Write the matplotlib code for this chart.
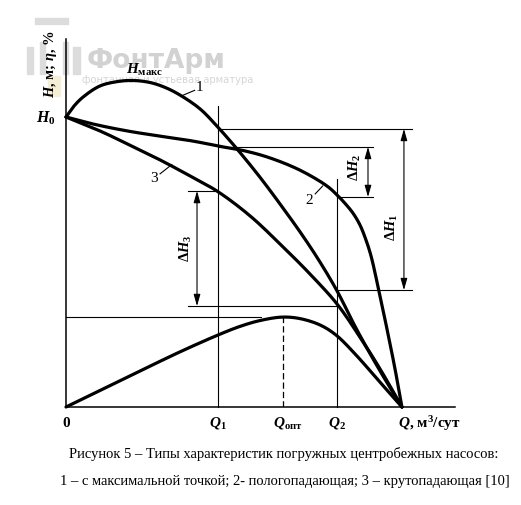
import matplotlib
matplotlib.use('Agg')
import matplotlib.pyplot as plt
import numpy as np
from matplotlib.patches import Rectangle

plt.rcParams['font.family'] = ['Liberation Serif', 'DejaVu Serif']
plt.rcParams['mathtext.fontset'] = 'custom'
plt.rcParams['mathtext.it'] = 'Liberation Serif:italic:bold'
plt.rcParams['mathtext.rm'] = 'Liberation Serif:bold'
plt.rcParams['mathtext.bf'] = 'Liberation Serif:bold'

# ---------------- data (Q in relative units, H / eta in relative units) -------------
curve1_q = [0.0, 2.4, 5.1, 10.1, 15.2, 19.9, 25.0, 29.5, 33.9, 39.9, 44.9, 50.9,
            57.7, 64.6, 70.5, 75.6, 80.7, 86.6, 93.5, 100.0]
curve1_h = [100.0, 103.8, 106.9, 110.7, 112.2, 112.6, 111.9, 110.2, 107.6, 102.8,
            96.9, 89.0, 79.3, 68.6, 59.0, 50.0, 40.0, 26.6, 12.4, 0.0]

curve2_q = [0.0, 8.0, 18.2, 28.0, 37.8, 45.2, 53.3, 60.7, 69.6, 77.7, 80.7, 83.0,
            85.4, 87.5, 89.3, 90.8, 92.9, 95.5, 97.9, 100.0]
curve2_h = [100.0, 97.6, 95.2, 93.4, 91.7, 90.0, 88.3, 85.9, 81.7, 76.2, 73.1, 70.3,
            66.9, 62.8, 57.6, 52.1, 41.4, 27.2, 13.4, 0.0]

curve3_q = [0.0, 10.1, 19.0, 28.0, 36.9, 44.9, 54.8, 64.6, 72.6, 80.7, 87.5, 93.5, 100.0]
curve3_h = [100.0, 95.2, 90.3, 85.2, 79.7, 74.5, 65.9, 55.2, 45.9, 35.5, 24.1, 13.1, 0.0]

eta_q = [0.0, 10.1, 22.0, 33.9, 45.2, 51.8, 57.7, 64.3, 69.6, 75.6, 80.4, 86.6, 92.6, 100.0]
eta_v = [0.0, 5.7, 12.4, 19.0, 24.8, 27.8, 29.8, 31.0, 30.5, 28.3, 24.8, 17.6, 9.7, 0.0]

Q1, Q_OPT, Q2, Q_MAX = 45.2, 64.6, 80.7, 100.0
ETA_MAX = 31.0
DH1 = (95.9, 40.3)   # H of curve 1 at Q1 and Q2
DH2 = (89.7, 72.4)   # H of curve 2 at Q1 and Q2
DH3 = (74.5, 34.8)   # H of curve 3 at Q1 and Q2

x_labels = ['0', r'$Q_1$', r'$Q_{\mathrm{опт}}$', r'$Q_2$']
x_label_pos = [0.0, Q1, Q_OPT + 1.5, Q2]

caption1 = 'Рисунок 5 – Типы характеристик погружных центробежных насосов:'
caption2 = '1 – с максимальной точкой; 2- пологопадающая; 3 – крутопадающая [10]'


def smooth(xs, ys, n=12):
    """Centripetal Catmull-Rom rendering of a polyline through the given points."""
    p = np.column_stack([xs, ys]).astype(float)
    p = np.vstack([2 * p[0] - p[1], p, 2 * p[-1] - p[-2]])
    out = []
    for i in range(1, len(p) - 2):
        p0, p1, p2, p3 = p[i - 1], p[i], p[i + 1], p[i + 2]
        t0 = 0.0
        t1 = t0 + np.linalg.norm(p1 - p0) ** 0.5
        t2 = t1 + np.linalg.norm(p2 - p1) ** 0.5
        t3 = t2 + np.linalg.norm(p3 - p2) ** 0.5
        t = np.linspace(t1, t2, n, endpoint=False)[:, None]
        a1 = (t1 - t) / (t1 - t0) * p0 + (t - t0) / (t1 - t0) * p1
        a2 = (t2 - t) / (t2 - t1) * p1 + (t - t1) / (t2 - t1) * p2
        a3 = (t3 - t) / (t3 - t2) * p2 + (t - t2) / (t3 - t2) * p3
        b1 = (t2 - t) / (t2 - t0) * a1 + (t - t0) / (t2 - t0) * a2
        b2 = (t3 - t) / (t3 - t1) * a2 + (t - t1) / (t3 - t1) * a3
        out.append((t2 - t) / (t2 - t1) * b1 + (t - t1) / (t2 - t1) * b2)
    out.append(p[-2][None, :])
    c = np.vstack(out)
    return c[:, 0], c[:, 1]


# ---------------- figure ---------------------------------------------------------
W, H = 521, 506
fig = plt.figure(figsize=(W / 100, H / 100), dpi=100)

# watermark (light grey logo)
wm = '#dcdcdc'
for (x0, y0, w, h) in [(35, 19, 33, 6), (27, 48, 6, 27), (40, 43, 5, 32),
                       (63, 43, 5, 32), (73, 48, 7, 27)]:
    fig.patches.append(Rectangle((x0 / W, 1 - (y0 + h) / H), w / W, h / H,
                                 transform=fig.transFigure, color=wm, zorder=-5))
fig.patches.append(Rectangle((48 / W, 1 - 97 / H), 12 / W, 20 / H,
                             transform=fig.transFigure, color='#f5efd6', zorder=-5))
fig.text(156 / W, 1 - 61 / H, 'ФонтАрм', family='DejaVu Sans', weight='bold',
         fontsize=19, color='#d2d2d2', ha='center', va='center', zorder=-5)
fig.text(168 / W, 1 - 80 / H, 'фонтанная и устьевая арматура', family='DejaVu Sans',
         fontsize=7.2, color='#d6d6d6', ha='center', va='center', zorder=-5)

ax = fig.add_axes([66 / W, (H - 408) / H, (455 - 66) / W, (408 - 40) / H])
ax.set_zorder(3)
ax.patch.set_alpha(0)
ax.set_xlim(0, 115.8)
ax.set_ylim(0, 126.9)
for s in ['top', 'right']:
    ax.spines[s].set_visible(False)
for s in ['left', 'bottom']:
    ax.spines[s].set_linewidth(1.1)
ax.set_xticks([])
ax.set_yticks([])

thick = dict(color='black', lw=2.3, solid_capstyle='round', solid_joinstyle='round',
             clip_on=False)
thin = dict(color='black', lw=0.8, clip_on=False)

for xs, ys in [(curve1_q, curve1_h), (curve2_q, curve2_h),
               (curve3_q, curve3_h), (eta_q, eta_v)]:
    sx, sy = smooth(xs, ys)
    ax.plot(sx, sy, **thick)

# construction lines
ax.plot([Q1, Q1], [0, 103.8], **thin)
ax.plot([Q2, Q2], [0, 78.6], **thin)
ax.plot([Q_OPT, Q_OPT], [0, ETA_MAX], color='black', lw=0.9, dashes=(5, 2.5))
ax.plot([0, 58.0], [ETA_MAX, ETA_MAX], **thin)

ax.plot([Q1, 103.0], [DH1[0], DH1[0]], **thin)
ax.plot([Q2, 103.0], [DH1[1], DH1[1]], **thin)
ax.plot([Q1, 91.4], [DH2[0], DH2[0]], **thin)
ax.plot([Q2, 91.4], [DH2[1], DH2[1]], **thin)
ax.plot([36.3, Q1], [DH3[0], DH3[0]], **thin)
ax.plot([36.3, Q2], [DH3[1], DH3[1]], **thin)

arrow = dict(arrowstyle='<|-|>,head_length=0.7,head_width=0.2', color='black',
             lw=0.8, shrinkA=0, shrinkB=0)
for xa, (ytop, ybot) in [(100.6, DH1), (89.9, DH2), (39.0, DH3)]:
    ax.annotate('', xy=(xa, ytop), xytext=(xa, ybot), arrowprops=arrow,
                annotation_clip=False)

lab = dict(fontsize=10.5, ha='center', va='center', rotation=90)
ax.text(97.0, 62.3, r'$\Delta H_1$', **lab)
ax.text(85.9, 82.8, r'$\Delta H_2$', **lab)
ax.text(35.6, 54.9, r'$\Delta H_3$', **lab)

# curve numbers with leader lines
num = dict(fontsize=11, ha='center', va='center')
ax.text(39.6, 110.6, '1', **num)
ax.plot([34.6, 38.3], [107.4, 109.2], **thin)
ax.text(72.4, 71.6, '2', **num)
ax.plot([74.2, 76.4], [73.5, 76.2], **thin)
ax.text(26.3, 79.2, '3', **num)
ax.plot([28.0, 31.5], [80.4, 83.6], **thin)

ax.text(23.5, 116.6, r'$H_{\mathrm{макс}}$', fontsize=11, ha='center', va='center',
        clip_on=False)
ax.text(-3.2, 100.0, r'$H_0$', fontsize=11.5, ha='right', va='center', clip_on=False)
ax.text(-4.6, 118.5, r'$H$, м; $\eta$, %', fontsize=10.5, weight='bold', rotation=90,
        ha='center', va='center', clip_on=False)

for xp, t in zip(x_label_pos, x_labels):
    ax.text(xp, -5.3, t, fontsize=11, weight='bold', ha='center', va='center',
            clip_on=False)
ax.text(Q_MAX - 1.3, -5.3, r'$Q$, м$^3$/сут', fontsize=11, weight='bold', ha='left',
        va='center', clip_on=False)

fig.text(284 / W, 1 - 454 / H, caption1, fontsize=10.5, ha='center', va='center')
fig.text(284.5 / W, 1 - 482 / H, caption2, fontsize=10.5, ha='center', va='center')

fig.savefig('out.png', dpi=100)
